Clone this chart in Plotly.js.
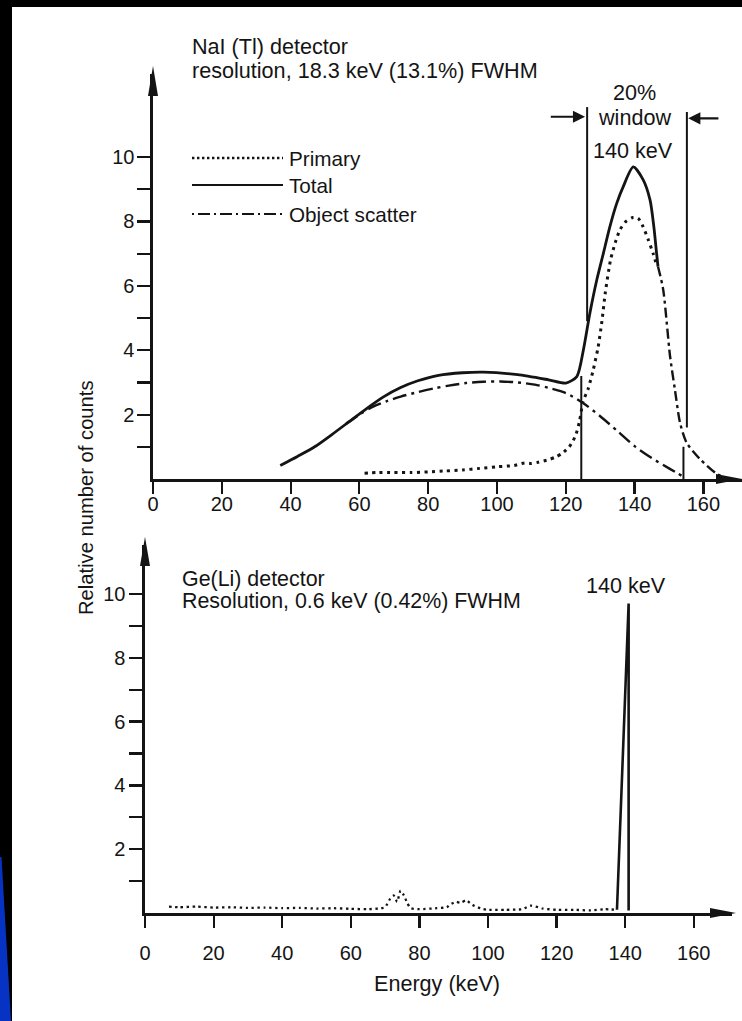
<!DOCTYPE html>
<html>
<head>
<meta charset="utf-8">
<script src="https://cdn.plot.ly/plotly-3.0.1.min.js"></script>
<style>html,body{margin:0;padding:0;background:#000;}#chart{width:742px;height:1021px;}</style>
</head>
<body>
<div id="chart"></div>
<script>
// ---------- data ----------
// NaI(Tl) detector, energy in keV
const naiTotalEnergy = [37,42,47,52,57,62,67,72,77,83,90,96,106,115,120,123.2,125.1,127,129,130.9,132.8,134.8,136.7,139.6,142.5,144.5,145.6,146.4,146.8];
const naiTotalCounts = [0.42,0.7,1.0,1.38,1.78,2.18,2.55,2.84,3.05,3.22,3.3,3.32,3.24,3.08,2.98,3.18,4.0,5.15,6.18,7.0,7.83,8.56,9.08,9.69,9.29,8.66,7.83,7.0,6.6];

const naiScatterEnergy = [56,60,64,68,72,77,82,86,91,96,101,106,111,115,120,125,130,135,140,145,150,154.5];
const naiScatterCounts = [1.7,2.0,2.25,2.42,2.56,2.7,2.82,2.9,2.98,3.02,3.03,3.0,2.93,2.83,2.67,2.36,1.95,1.49,1.02,0.65,0.33,0.05];

const naiPrimaryEnergy = [61.5,65,70,75,80,85,90,95,100,105,108,110,112,115,117,119,121,122,123,124,125,126.5,128,129.4,130.5,131.5,133,134.4,135.8,137.5,139.5,141,142.4,143.9,145.4,146.5];
const naiPrimaryCounts = [0.18,0.2,0.2,0.2,0.22,0.25,0.28,0.33,0.38,0.42,0.5,0.48,0.52,0.6,0.68,0.8,1.0,1.16,1.4,1.8,2.4,2.8,3.4,4.1,4.9,5.8,6.8,7.35,7.75,8.0,8.12,8.1,7.85,7.45,7.0,6.6];

const naiTailEnergy = [146.8,148.3,150.3,151.7,153.2,155.1,159,164,166];
const naiTailCounts = [6.6,5.89,3.82,2.79,1.75,1.13,0.62,0.15,0.05];

const windowLow = 126;   // keV
const windowHigh = 155;  // keV

// Ge(Li) detector
const geEnergy = [7,10,15,20,25,30,35,40,45,50,55,60,65,68,70,71.5,72.5,73.5,74.5,75.5,76.5,77.5,80,85,88,89,90.7,92,93.6,95.5,98,100,105,110,112.5,116,120,125,130,134,137.5];
const geCounts = [0.2,0.18,0.2,0.17,0.18,0.16,0.17,0.15,0.16,0.14,0.15,0.13,0.12,0.14,0.18,0.45,0.55,0.35,0.7,0.55,0.3,0.15,0.12,0.15,0.18,0.27,0.35,0.32,0.4,0.25,0.14,0.1,0.1,0.12,0.23,0.14,0.1,0.1,0.08,0.12,0.1];
const geSpikeEnergy = [137.6,140.8,141.0,141.0];
const geSpikeCounts = [0.1,9.7,9.7,0.08];

const xTicks = [0,20,40,60,80,100,120,140,160];
const yTickVals = [1,2,3,4,5,6,7,8,9,10];
const yTickText = ['','2','','4','','6','','8','','10'];

// ---------- layout helpers ----------
const W = 742, H = 1021;
const px = x => x / W;
const py = y => 1 - y / H;
const INK = '#141414';
const FONT = 'Liberation Sans, Arial, Helvetica, sans-serif';

const traces = [
  {x: naiScatterEnergy, y: naiScatterCounts, xaxis:'x', yaxis:'y', mode:'lines', name:'Object scatter',
   line:{color:INK, width:2.4, dash:'14px,5px,3px,5px', shape:'spline', smoothing:0.8}},
  {x: naiPrimaryEnergy, y: naiPrimaryCounts, xaxis:'x', yaxis:'y', mode:'lines', name:'Primary',
   line:{color:INK, width:3, dash:'3px,4.5px', shape:'spline', smoothing:0.6}},
  {x: naiTotalEnergy, y: naiTotalCounts, xaxis:'x', yaxis:'y', mode:'lines', name:'Total',
   line:{color:INK, width:2.8, shape:'spline', smoothing:0.7}},
  {x: naiTailEnergy, y: naiTailCounts, xaxis:'x', yaxis:'y', mode:'lines', name:'Total (tail)',
   line:{color:INK, width:2.4, dash:'10px,4px,3px,4px', shape:'spline', smoothing:0.7}},
  {x: geEnergy, y: geCounts, xaxis:'x2', yaxis:'y2', mode:'lines', name:'Ge(Li) continuum',
   line:{color:INK, width:2.3, dash:'2.3px,3.6px', shape:'spline', smoothing:0.5}},
  {x: geSpikeEnergy, y: geSpikeCounts, xaxis:'x2', yaxis:'y2', mode:'lines', name:'Ge(Li) 140 keV peak',
   line:{color:INK, width:2.6}}
];

// axis geometry (pixels)
const gTop = {x0:153, x1:742, kevPx:3.44, yBase:479, yTop:74, unit:32.2, xStand:-7, yStand:-1};
const gBot = {x0:145, x1:732, kevPx:3.43, yBase:913, yTop:545, unit:31.9, xStand:8, yStand:0};

function xAxis(g, anchor){
  return {domain:[px(g.x0), px(g.x1)], range:[0, (g.x1-g.x0)/g.kevPx], anchor:anchor,
    tickvals:xTicks, ticks:'outside', ticklen:12, tickwidth:2.2, tickcolor:INK, ticklabelstandoff:g.xStand,
    showline:true, linewidth:2.6, linecolor:INK, showgrid:false, zeroline:false,
    tickfont:{family:FONT, size:20, color:INK}, fixedrange:true};
}
function yAxis(g, anchor){
  return {domain:[py(g.yBase), py(g.yTop)], range:[0, (g.yBase-g.yTop)/g.unit], anchor:anchor,
    tickvals:yTickVals, ticktext:yTickText, ticks:'outside', ticklen:13, tickwidth:2.2, tickcolor:INK, ticklabelstandoff:g.yStand,
    showline:true, linewidth:2.6, linecolor:INK, showgrid:false, zeroline:false,
    tickfont:{family:FONT, size:20, color:INK}, fixedrange:true};
}

function tri(pts){ return 'M' + pts.map(p => px(p[0]) + ',' + py(p[1])).join(' L') + ' Z'; }

const shapes = [
  // white page on black screen
  {type:'rect', xref:'paper', yref:'paper', x0:px(12), x1:1, y0:0, y1:py(7), fillcolor:'#fff', line:{width:0}, layer:'below'},
  // blue sliver bottom-left
  {type:'path', xref:'paper', yref:'paper', path:tri([[0,857],[1.5,857],[11,1021],[0,1021]]), fillcolor:'#0633c4', line:{width:0}, layer:'below'},
  // axis arrow heads
  {type:'path', xref:'paper', yref:'paper', path:tri([[gTop.x0,66],[gTop.x0-5,96],[gTop.x0+5,96]]), fillcolor:INK, line:{width:0}},
  {type:'path', xref:'paper', yref:'paper', path:tri([[742,gTop.yBase],[716,gTop.yBase-5],[716,gTop.yBase+5]]), fillcolor:INK, line:{width:0}},
  {type:'path', xref:'paper', yref:'paper', path:tri([[gBot.x0,537],[gBot.x0-5,566],[gBot.x0+5,566]]), fillcolor:INK, line:{width:0}},
  {type:'path', xref:'paper', yref:'paper', path:tri([[736,gBot.yBase],[710,gBot.yBase-5],[710,gBot.yBase+5]]), fillcolor:INK, line:{width:0}},
  // 20% window edges
  {type:'line', xref:'x', yref:'y', x0:windowLow+0.2, x1:windowLow+0.2, y0:4.9, y1:11.55, line:{color:INK, width:2}},
  {type:'line', xref:'x', yref:'y', x0:windowLow-1.5, x1:windowLow-1.5, y0:0, y1:3.2, line:{color:INK, width:2}},
  {type:'line', xref:'x', yref:'y', x0:windowHigh+0.2, x1:windowHigh+0.2, y0:1.6, y1:11.4, line:{color:INK, width:2}},
  {type:'line', xref:'x', yref:'y', x0:windowHigh-0.8, x1:windowHigh-0.8, y0:0, y1:1.0, line:{color:INK, width:2}},
  // legend keys
  {type:'line', xref:'paper', yref:'paper', x0:px(192), x1:px(283), y0:py(158), y1:py(158), line:{color:INK, width:2.4, dash:'2.4px,2.6px'}},
  {type:'line', xref:'paper', yref:'paper', x0:px(192), x1:px(283), y0:py(185), y1:py(185), line:{color:INK, width:2}},
  {type:'line', xref:'paper', yref:'paper', x0:px(192), x1:px(283), y0:py(214), y1:py(214), line:{color:INK, width:2.2, dash:'2px,4px,12px,4px'}}
];

function txt(text, x, y, xanchor, size, extra){
  return Object.assign({text:text, x:px(x), y:py(y), xref:'paper', yref:'paper', xanchor:xanchor||'left', yanchor:'middle',
    showarrow:false, font:{family:FONT, size:size||21.6, color:INK}}, extra||{});
}

const annotations = [
  txt('NaI (Tl) detector', 190, 46),
  txt('resolution, 18.3 keV (13.1%) FWHM', 190, 71),
  txt('20%', 634, 93, 'center'),
  txt('window', 634, 117, 'center'),
  txt('140 keV', 633, 150, 'center'),
  txt('Primary', 287, 158, 'left', 20.7),
  txt('Total', 287, 186, 'left', 20.7),
  txt('Object scatter', 287, 214, 'left', 20.7),
  txt('Ge(Li) detector', 180, 579, 'left', 21.4),
  txt('Resolution, 0.6 keV (0.42%) FWHM', 180, 601, 'left', 21.4),
  txt('140 keV', 626, 585, 'center'),
  txt('Energy (keV)', 437, 983, 'center'),
  txt('Relative number of counts', 86, 498, 'center', 20.2, {textangle:-90}),
  // window arrows
  {x:windowLow-0.4, y:11.25, ax:windowLow-10.8, ay:11.25, xref:'x', yref:'y', axref:'x', ayref:'y', text:'',
   showarrow:true, arrowhead:2, arrowsize:1.1, arrowwidth:2.2, arrowcolor:INK},
  {x:windowHigh+0.6, y:11.2, ax:windowHigh+9.8, ay:11.2, xref:'x', yref:'y', axref:'x', ayref:'y', text:'',
   showarrow:true, arrowhead:2, arrowsize:1.1, arrowwidth:2.2, arrowcolor:INK}
];

const layout = {
  width:W, height:H, margin:{l:0, r:0, t:0, b:0},
  paper_bgcolor:'#000', plot_bgcolor:'rgba(0,0,0,0)',
  showlegend:false,
  xaxis: xAxis(gTop, 'y'), yaxis: yAxis(gTop, 'x'),
  xaxis2: xAxis(gBot, 'y2'), yaxis2: yAxis(gBot, 'x2'),
  shapes: shapes, annotations: annotations,
  font:{family:FONT, color:INK}
};

Plotly.newPlot('chart', traces, layout, {staticPlot:true, displayModeBar:false});
</script>
</body>
</html>
